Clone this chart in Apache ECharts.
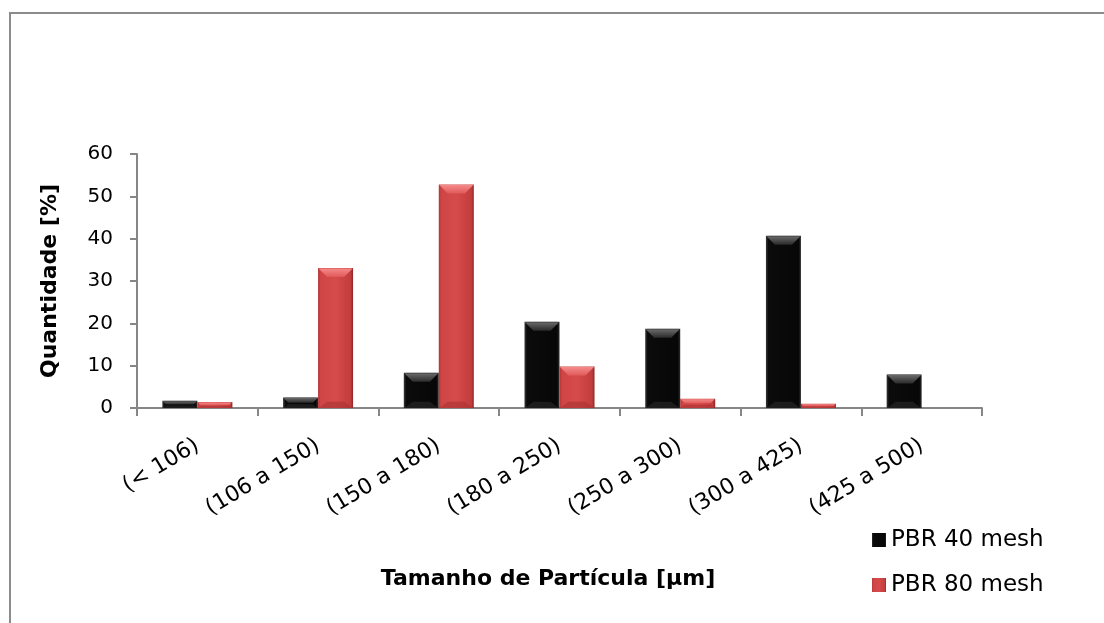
<!DOCTYPE html>
<html>
<head>
<meta charset="utf-8">
<script src="https://cdn.jsdelivr.net/npm/echarts@6/dist/echarts.min.js"></script>
<style>
  html, body { margin: 0; padding: 0; background: #ffffff; }
  #chart { width: 1104px; height: 623px; }
</style>
</head>
<body>
<div id="chart"></div>
<script>
const categories = ['(< 106)', '(106 a 150)', '(150 a 180)', '(180 a 250)', '(250 a 300)', '(300 a 425)', '(425 a 500)'];
const pbr40 = [1.7, 2.5, 8.3, 20.4, 18.7, 40.7, 7.9];
const pbr80 = [1.4, 33.1, 52.8, 9.8, 2.2, 1.0, 0];
const yTicks = [0, 10, 20, 30, 40, 50, 60];
const seriesNames = ['PBR 40 mesh', 'PBR 80 mesh'];
const xTitle = 'Tamanho de Partícula [µm]';
const yTitle = 'Quantidade [%]';

const font = 'DejaVu Sans';
const axisGray = '#868686';
const BAR_W = 35;

const blackFill = new echarts.graphic.LinearGradient(0, 0, 1, 0, [
  { offset: 0, color: '#3a3a3a' },
  { offset: 0.07, color: '#0b0b0b' },
  { offset: 0.93, color: '#070707' },
  { offset: 1, color: '#2c2c2c' }
]);
const redFill = new echarts.graphic.LinearGradient(0, 0, 1, 0, [
  { offset: 0, color: '#b03434' },
  { offset: 0.07, color: '#cf4545' },
  { offset: 0.5, color: '#d64a4a' },
  { offset: 0.93, color: '#c23d3d' },
  { offset: 1, color: '#8a2525' }
]);

function bevel(offsetSign, topColors, bottomColor) {
  return function (params, api) {
    const idx = api.value(0);
    const val = api.value(1);
    if (!val) return null;
    const top = api.coord([idx, val]);
    const base = api.coord([idx, 0]);
    const x0 = offsetSign < 0 ? top[0] - BAR_W : top[0];
    const x1 = x0 + BAR_W;
    const y0 = top[1];
    const y1 = base[1];
    const h = y1 - y0;
    const b = Math.min(9, h / 2);
    return {
      type: 'group',
      silent: true,
      children: [
        {
          type: 'polygon',
          shape: { points: [[x0 + 0.5, y0 + 0.5], [x1 - 0.5, y0 + 0.5], [x1 - b, y0 + b], [x0 + b, y0 + b]] },
          style: {
            fill: new echarts.graphic.LinearGradient(0, 0, 0, 1, [
              { offset: 0, color: topColors[0] },
              { offset: 1, color: topColors[1] }
            ])
          }
        },
        {
          type: 'polygon',
          shape: { points: [[x0 + 0.5, y1], [x1 - 0.5, y1], [x1 - b, y1 - b * 0.7], [x0 + b, y1 - b * 0.7]] },
          style: { fill: bottomColor, opacity: 0.6 }
        }
      ]
    };
  };
}

const bevel40 = categories.map((c, i) => [i, pbr40[i]]);
const bevel80 = categories.map((c, i) => [i, pbr80[i]]);

const chart = echarts.init(document.getElementById('chart'));
chart.setOption({
  backgroundColor: '#ffffff',
  animation: false,
  graphic: [
    {
      type: 'rect',
      z: -10,
      shape: { x: 10, y: 13, width: 1300, height: 900 },
      style: { fill: 'none', stroke: '#8c8c8c', lineWidth: 2 }
    }
  ],
  grid: { left: 137, right: 122, top: 154, bottom: 215, containLabel: false },
  legend: {
    orient: 'vertical',
    left: 867,
    top: 523,
    itemWidth: 14,
    itemHeight: 14,
    itemGap: 21,
    icon: 'rect',
    textStyle: { fontFamily: font, fontSize: 23, color: '#000000', lineHeight: 24 },
    data: seriesNames
  },
  xAxis: {
    type: 'category',
    data: categories,
    name: xTitle,
    nameLocation: 'middle',
    nameGap: 160,
    nameTextStyle: { fontFamily: font, fontSize: 22, fontWeight: 'bold', color: '#000000', padding: [0, 23, 0, 0] },
    axisLine: { show: true, lineStyle: { color: axisGray, width: 2 } },
    axisTick: { show: true, interval: 0, length: 8, lineStyle: { color: axisGray, width: 2 } },
    axisLabel: { interval: 0, rotate: 31, margin: 36, fontFamily: font, fontSize: 22, color: '#000000' },
    splitLine: { show: false }
  },
  yAxis: {
    type: 'value',
    min: yTicks[0],
    max: yTicks[yTicks.length - 1],
    interval: yTicks[1] - yTicks[0],
    name: yTitle,
    nameLocation: 'middle',
    nameRotate: 90,
    nameGap: 76,
    nameTextStyle: { fontFamily: font, fontSize: 22, fontWeight: 'bold', color: '#000000' },
    axisLine: { show: true, lineStyle: { color: axisGray, width: 2 } },
    axisTick: { show: true, length: 7, lineStyle: { color: axisGray, width: 2 } },
    axisLabel: { margin: 24, fontFamily: font, fontSize: 20, color: '#000000' },
    splitLine: { show: false }
  },
  series: [
    {
      name: seriesNames[0],
      type: 'bar',
      data: pbr40,
      barWidth: BAR_W,
      barGap: '0%',
      itemStyle: { color: blackFill, borderWidth: 0 }
    },
    {
      name: seriesNames[1],
      type: 'bar',
      data: pbr80,
      barWidth: BAR_W,
      barGap: '0%',
      itemStyle: { color: redFill, borderWidth: 0 }
    },
    {
      name: 'bevel40',
      type: 'custom',
      silent: true,
      z: 5,
      renderItem: bevel(-1, ['#6a6a6a', '#2a2a2a'], '#2a2a2a'),
      data: bevel40,
      tooltip: { show: false }
    },
    {
      name: 'bevel80',
      type: 'custom',
      silent: true,
      z: 5,
      renderItem: bevel(1, ['#f58a8a', '#e05a5a'], '#a83232'),
      data: bevel80,
      tooltip: { show: false }
    }
  ]
});
</script>
</body>
</html>
